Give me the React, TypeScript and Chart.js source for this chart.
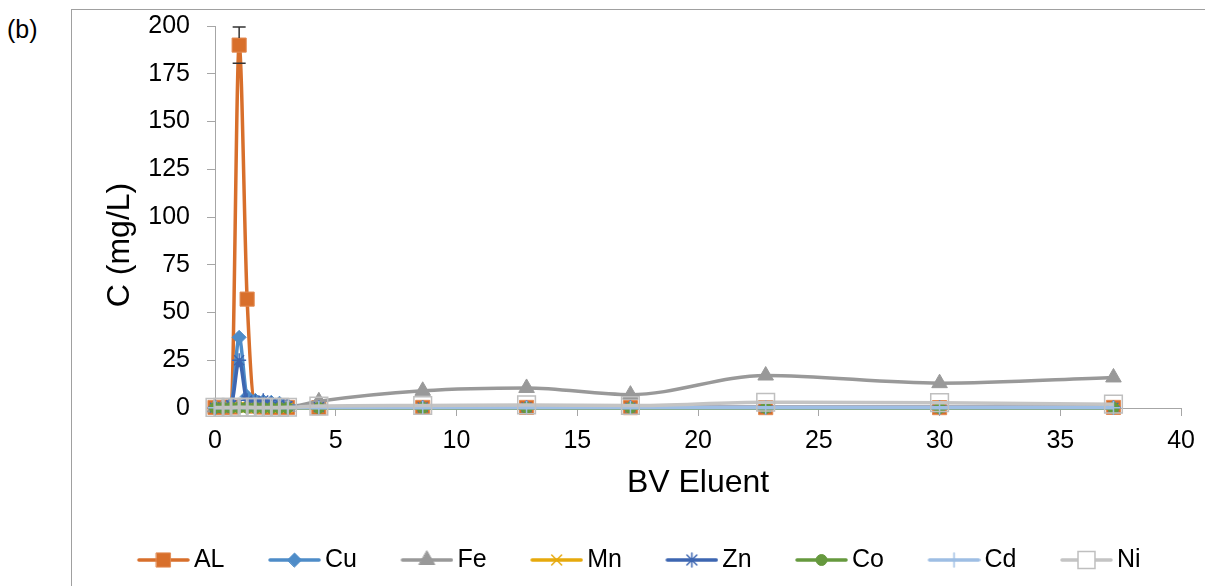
import React, { useEffect, useRef } from 'react';
import { Chart, registerables } from 'chart.js';
import { drawPoint } from 'chart.js/helpers';

Chart.register(...registerables);

// ---------- data ----------
const bvEluent = [0, 0.33, 0.67, 1.0, 1.33, 1.67, 2.0, 2.33, 2.67, 3.0, 4.3, 8.6, 12.9, 17.2, 22.8, 30.0, 37.2];
const alValues = [0.3, 0.3, 0.5, 190, 57, 1.0, 0.5, 0.3, 0.3, 0.3, 0.2, 0.3, 0.3, 0.2, 0.2, 0.2, 0.3];
const alErrors = [0, 0, 0, 9.5, 0, 0, 0, 0, 0, 0, 0, 0, 0, 0, 0, 0, 0];
const cuValues = [0.2, 0.3, 2.0, 37, 6.0, 4.0, 3.5, 3.0, 2.5, 1.5, 0.5, 0.3, 0.3, 0.2, 0.2, 0.2, 0.2];
const feValues = [0.3, 0.3, 0.3, 0.6, 0.6, 0.4, 0.4, 0.4, 0.4, 0.5, 3.5, 9.0, 10.5, 7.0, 17.0, 13.0, 16.0];
const mnValues = [0.1, 0.1, 0.2, 0.5, 0.3, 0.2, 0.1, 0.1, 0.1, 0.1, 0.1, 0.1, 0.1, 0.1, 0.1, 0.1, 0.1];
const znValues = [0.2, 0.3, 1.5, 25, 4.0, 3.5, 4.0, 2.5, 2.0, 1.0, 0.4, 0.3, 0.3, 0.2, 0.2, 0.2, 0.2];
const coValues = [0.05, 0.05, 0.1, 0.2, 0.1, 0.05, 0.05, 0.05, 0.05, 0.05, 0.05, 0.05, 0.05, 0.05, 0.05, 0.05, 0.05];
const cdValues = [0.1, 0.1, 0.1, 0.2, 0.1, 0.1, 0.1, 0.1, 0.1, 0.1, 0.1, 0.1, 0.1, 0.1, 0.1, 0.1, 0.1];
const niValues = [0.3, 0.3, 0.3, 0.4, 0.4, 0.3, 0.3, 0.3, 0.3, 0.4, 1.0, 1.3, 1.6, 1.3, 3.0, 2.8, 2.0];

const seriesLabels = ['AL', 'Cu', 'Fe', 'Mn', 'Zn', 'Co', 'Cd', 'Ni'];
const xTicksMax = 40;
const xTickStep = 5;
const yTicksMax = 200;
const yTickStep = 25;
const xTitle = 'BV Eluent';
const yTitle = 'C (mg/L)';
const panelLabel = '(b)';

// ---------- styles ----------
const FONT = 'Arial, "Liberation Sans", sans-serif';
const styles = [
  { color: '#D86F2B', point: 'rect', r: 10, fill: '#D86F2B', border: '#E28A52', bw: 1 },
  { color: '#4E8CC8', point: 'rectRot', r: 7, fill: '#4E8CC8', border: '#4E8CC8', bw: 1 },
  { color: '#999999', point: 'triangle', r: 9, fill: '#999999', border: '#999999', bw: 1 },
  { color: '#E6A90C', point: 'crossRot', r: 7, fill: '#E6A90C', border: '#E6A90C', bw: 1.5 },
  { color: '#3D66B1', point: 'star', r: 7, fill: '#3D66B1', border: '#3D66B1', bw: 1.5 },
  { color: '#66993E', point: 'circle', r: 5.5, fill: '#66993E', border: '#66993E', bw: 1 },
  { color: '#9EBEE4', point: 'cross', r: 7, fill: '#9EBEE4', border: '#9EBEE4', bw: 1.5 },
  { color: '#C4C4C4', point: 'rect', r: 12.5, fill: 'rgba(255,255,255,0)', border: '#BFBFBF', bw: 1.5 },
];
const seriesValues = [alValues, cuValues, feValues, mnValues, znValues, coValues, cdValues, niValues];

// legend icon: canvas of width 77, line drawn in its right part
function makeIcon(i: number): HTMLCanvasElement {
  const s = styles[i];
  const c = document.createElement('canvas');
  c.width = 77;
  c.height = 26;
  const ctx = c.getContext('2d') as CanvasRenderingContext2D;
  ctx.strokeStyle = s.color;
  ctx.lineWidth = 3.5;
  ctx.lineCap = 'round';
  ctx.beginPath();
  ctx.moveTo(26, 13);
  ctx.lineTo(75, 13);
  ctx.stroke();
  ctx.fillStyle = i === 7 ? '#ffffff' : s.fill;
  ctx.strokeStyle = s.border;
  ctx.lineWidth = s.bw;
  drawPoint(ctx, { pointStyle: s.point as any, rotation: 0, radius: Math.min(s.r, 12), borderWidth: s.bw }, 50.5, 13);
  return c;
}

const errorBarPlugin = {
  id: 'errorBars',
  afterDatasetsDraw(chart: any) {
    const meta = chart.getDatasetMeta(0);
    const yScale = chart.scales.y;
    const ctx = chart.ctx;
    ctx.save();
    ctx.strokeStyle = '#333333';
    ctx.lineWidth = 1.5;
    meta.data.forEach((pt: any, i: number) => {
      const e = alErrors[i];
      if (!e) return;
      const v = alValues[i];
      const yTop = yScale.getPixelForValue(v + e);
      const yBot = yScale.getPixelForValue(v - e);
      const x = pt.x;
      const half = styles[0].r * Math.SQRT1_2;
      ctx.beginPath();
      ctx.moveTo(x, yTop);
      ctx.lineTo(x, pt.y - half);
      ctx.moveTo(x - 6.5, yTop);
      ctx.lineTo(x + 6.5, yTop);
      ctx.moveTo(x - 6.5, yBot);
      ctx.lineTo(x + 6.5, yBot);
      ctx.stroke();
    });
    ctx.restore();
  },
};

const yTitlePlugin = {
  id: 'yTitleText',
  afterDraw(chart: any) {
    const ctx = chart.ctx;
    const area = chart.chartArea;
    ctx.save();
    ctx.translate(area.left - 95, (area.top + area.bottom) / 2 + 28);
    ctx.rotate(-Math.PI / 2);
    ctx.font = `32px ${FONT}`;
    ctx.fillStyle = '#000000';
    ctx.textAlign = 'center';
    ctx.textBaseline = 'middle';
    ctx.fillText(yTitle, 0, 0);
    ctx.restore();
  },
};

export default function App() {
  const canvasRef = useRef<HTMLCanvasElement | null>(null);

  useEffect(() => {
    if (!canvasRef.current) return;
    const icons = seriesLabels.map((_, i) => makeIcon(i));
    const datasets = seriesLabels.map((label, i) => {
      const s = styles[i];
      return {
        label,
        data: bvEluent.map((x, k) => ({ x, y: seriesValues[i][k] })),
        borderColor: s.color,
        backgroundColor: s.fill,
        borderWidth: 3.5,
        pointStyle: s.point,
        pointRadius: s.r,
        pointHoverRadius: s.r,
        pointBackgroundColor: s.fill,
        pointBorderColor: s.border,
        pointBorderWidth: s.bw,
        cubicInterpolationMode: 'monotone',
        fill: false,
        clip: false,
        order: seriesLabels.length - i,
      };
    });

    const chart = new Chart(canvasRef.current, {
      type: 'line',
      data: { datasets: datasets as any },
      options: {
        responsive: false,
        animation: false,
        events: [],
        layout: { padding: { left: 80, right: 23, top: 26, bottom: 3.5 } },
        scales: {
          x: {
            type: 'linear',
            min: 0,
            max: xTicksMax,
            ticks: { stepSize: xTickStep, padding: 10, color: '#000', font: { size: 25, family: FONT } },
            grid: { display: true, drawOnChartArea: false, drawTicks: true, tickLength: 8, color: '#A6A6A6' },
            border: { display: true, color: '#A6A6A6', width: 1 },
            title: { display: true, text: xTitle, color: '#000', font: { size: 32, family: FONT, lineHeight: 1 }, padding: { top: 0, bottom: 20.5 } },
            afterFit: (scale: any) => { scale.height = 111.5; },
          },
          y: {
            type: 'linear',
            min: 0,
            max: yTicksMax,
            ticks: { stepSize: yTickStep, padding: 17, color: '#000', font: { size: 25, family: FONT } },
            grid: { display: true, drawOnChartArea: false, drawTicks: true, tickLength: 8, color: '#A6A6A6' },
            border: { display: true, color: '#A6A6A6', width: 1 },
            afterFit: (scale: any) => {
              scale.width = 135;
              scale.paddingTop = 12;
              scale.paddingBottom = 12;
            },
          },
        },
        plugins: {
          tooltip: { enabled: false },
          title: { display: false },
          legend: {
            display: true,
            position: 'bottom',
            labels: {
              usePointStyle: true,
              pointStyleWidth: 60,
              padding: 28,
              color: '#000',
              font: { size: 25, family: FONT },
              generateLabels: () =>
                seriesLabels.map((label, i) => ({
                  text: label,
                  datasetIndex: i,
                  pointStyle: icons[i] as any,
                  fillStyle: styles[i].fill,
                  strokeStyle: styles[i].color,
                  lineWidth: 0,
                  hidden: false,
                  fontColor: '#000',
                })),
            },
          },
        },
      },
      plugins: [errorBarPlugin, yTitlePlugin],
    } as any);

    return () => chart.destroy();
  }, []);

  return (
    <div style={{ position: 'fixed', left: 0, top: 0, width: 1205, height: 586, background: '#fff', overflow: 'hidden' }}>
      <div
        style={{
          position: 'absolute',
          left: 71,
          top: 9,
          width: 1200,
          height: 600,
          borderLeft: '1.5px solid #A0A0A0',
          borderTop: '1.5px solid #A0A0A0',
        }}
      />
      <div style={{ position: 'absolute', left: 7, top: 17, fontFamily: FONT, fontSize: 25, lineHeight: '25px', color: '#000' }}>
        {panelLabel}
      </div>
      <canvas ref={canvasRef} width={1205} height={586} style={{ position: 'absolute', left: 0, top: 0 }} />
    </div>
  );
}
